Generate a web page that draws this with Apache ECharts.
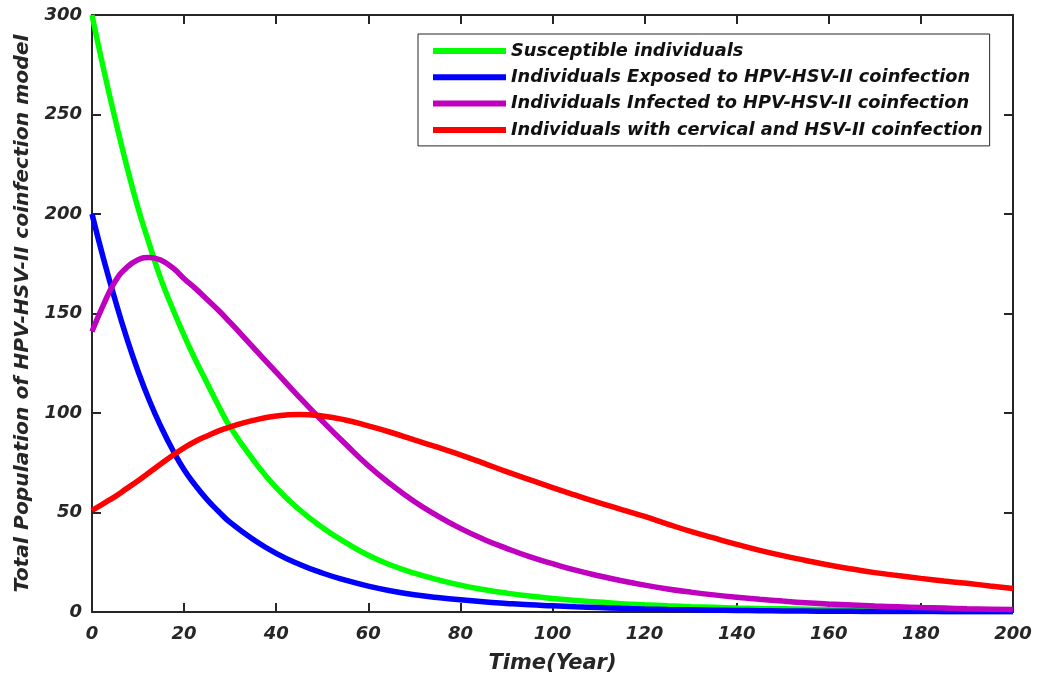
<!DOCTYPE html>
<html>
<head>
<meta charset="utf-8">
<script src="https://cdn.jsdelivr.net/npm/echarts@6/dist/echarts.min.js"></script>
<style>
  html, body { margin: 0; padding: 0; background: #fff; }
  #chart { width: 1037px; height: 684px; }
</style>
</head>
<body>
<div id="chart"></div>
<script>
// time in years: step 2.5 up to 30, then step 5
const time = [0, 2.5, 5, 7.5, 10, 12.5, 15, 17.5, 20, 22.5, 25, 27.5, 30, 35, 40, 45, 50, 55, 60, 65, 70, 75, 80, 85, 90, 95, 100,
  105, 110, 115, 120, 125, 130, 135, 140, 145, 150, 155, 160, 165, 170, 175, 180, 185, 190, 195, 200]

const susceptible = [300, 273, 248, 224.5, 203, 184.5, 167, 152.5, 139, 126.5, 115, 103.5, 93, 76.5, 62.5, 51.5, 42.5, 35, 28.5, 23.5, 19.5, 16.3, 13.5, 11.3, 9.5, 8, 6.8,
  5.8, 5, 4.2, 3.6, 3.1, 2.7, 2.35, 2.05, 1.8, 1.6, 1.4, 1.2, 1.05, 0.92, 0.8, 0.7, 0.6, 0.52, 0.45, 0.4]
const exposed = [200, 177.5, 157, 138, 121, 106, 93, 81.5, 71.5, 63.5, 56.5, 50.5, 45, 36.5, 29.5, 24, 19.6, 16, 13, 10.6, 8.7, 7.3, 6.1, 5.1, 4.3, 3.6, 3.1,
  2.6, 2.2, 1.85, 1.55, 1.3, 1.1, 0.92, 0.78, 0.66, 0.56, 0.47, 0.4, 0.34, 0.29, 0.25, 0.21, 0.18, 0.15, 0.13, 0.11]
const infected = [141, 154.5, 166, 173, 177, 178.2, 176.8, 173, 167.5, 162.5, 157, 151.5, 145.5, 133, 120.5, 108, 96, 84.5, 73.5, 64, 55.5, 48.3, 42, 36.6, 32, 27.8, 24.3,
  21, 18.2, 15.7, 13.5, 11.6, 10, 8.6, 7.4, 6.4, 5.5, 4.7, 4.05, 3.5, 3, 2.6, 2.25, 1.95, 1.65, 1.4, 1.2]
const cervical = [51, 54.5, 58, 62, 66, 70.2, 74.5, 78.7, 82.5, 85.8, 88.5, 91, 93, 96.3, 98.5, 99.3, 98.5, 96.5, 93.5, 90.2, 86.5, 82.8, 79, 74.8, 70.5, 66.5, 62.5,
  58.7, 55, 51.5, 48, 44.2, 40.5, 37.2, 34, 31, 28.3, 25.9, 23.6, 21.6, 19.8, 18.3, 16.9, 15.6, 14.4, 13.1, 11.8]

const seriesNames = [
  'Susceptible individuals',
  'Individuals Exposed to HPV-HSV-II coinfection',
  'Individuals Infected to HPV-HSV-II coinfection',
  'Individuals with cervical and HSV-II coinfection'
]
const seriesColors = ['#00ff00', '#0000ff', '#bf00bf', '#ff0000']
const seriesValues = [susceptible, exposed, infected, cervical]

const axisColor = '#262626'
const labelFont = {
  color: axisColor,
  fontFamily: 'DejaVu Sans',
  fontWeight: 'bold',
  fontStyle: 'italic',
  fontSize: 18
}

const boxAxis = (type, position, showLabel) => ({
  type: 'value',
  position,
  min: 0,
  max: type === 'x' ? 200 : 300,
  interval: type === 'x' ? 20 : 50,
  axisLine: { show: true, onZero: false, lineStyle: { color: axisColor, width: 2 } },
  axisTick: { show: true, inside: true, length: 9, lineStyle: { color: axisColor, width: 2 } },
  axisLabel: Object.assign({ show: showLabel, margin: type === 'x' ? 13 : 10 }, labelFont),
  splitLine: { show: false }
})

const chart = echarts.init(document.getElementById('chart'))

const xBottom = boxAxis('x', 'bottom', true)
xBottom.name = 'Time(Year)'
xBottom.nameLocation = 'middle'
xBottom.nameGap = 41
xBottom.nameTextStyle = Object.assign({}, labelFont, { fontSize: 21 })

const yLeft = boxAxis('y', 'left', true)
yLeft.name = 'Total Population of HPV-HSV-II coinfection model'
yLeft.nameLocation = 'middle'
yLeft.nameGap = 59
yLeft.nameTextStyle = Object.assign({}, labelFont, { fontSize: 20.3 })

chart.setOption({
  animation: false,
  backgroundColor: '#ffffff',
  grid: { left: 92, right: 24, top: 15, bottom: 72, containLabel: false },
  legend: {
    orient: 'vertical',
    left: 418,
    top: 34,
    padding: [7, 7, 6, 15],
    backgroundColor: '#ffffff',
    borderColor: axisColor,
    borderWidth: 1,
    borderRadius: 0,
    icon: 'rect',
    itemWidth: 73,
    itemHeight: 6,
    itemGap: 6.3,
    textStyle: Object.assign({}, labelFont, { color: '#111', fontSize: 17.8, lineHeight: 20 }),
    data: seriesNames
  },
  xAxis: [xBottom, boxAxis('x', 'top', false)],
  yAxis: [yLeft, boxAxis('y', 'right', false)],
  series: seriesNames.map((name, i) => ({
    name,
    type: 'line',
    xAxisIndex: 0,
    yAxisIndex: 0,
    smooth: 0.5,
    showSymbol: false,
    color: seriesColors[i],
    lineStyle: { width: 5.5, color: seriesColors[i] },
    data: time.map((t, j) => [t, seriesValues[i][j]])
  }))
})
</script>
</body>
</html>
